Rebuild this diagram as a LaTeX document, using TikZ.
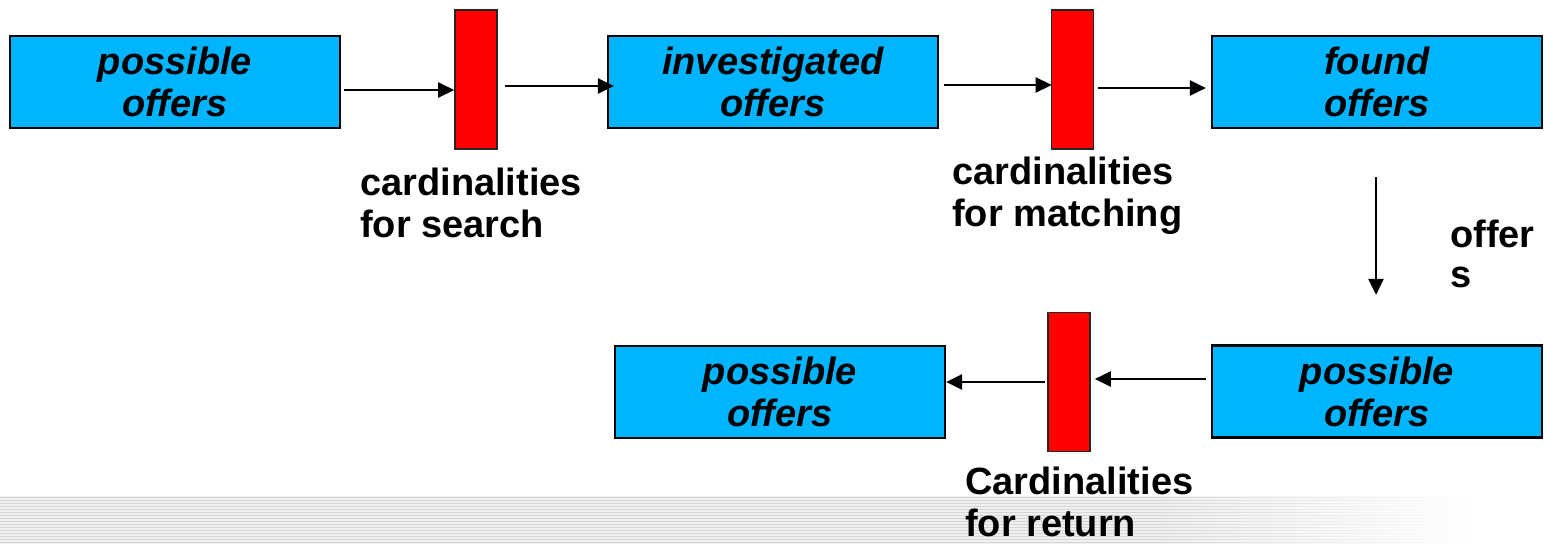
\documentclass[tikz,border=0pt]{standalone}
\usepackage{fontspec}
\setmainfont{Liberation Sans}
\usetikzlibrary{arrows.meta,fadings}
\definecolor{boxblue}{RGB}{0,181,255}
\definecolor{barred}{RGB}{255,0,0}
\definecolor{stripedark}{RGB}{214,214,214}
\definecolor{stripelight}{RGB}{240,240,240}
% white veil: clear on the left, opaque on the right
\tikzfading[name=veilright, left color=transparent!100, right color=transparent!0]
\begin{document}
\begin{tikzpicture}[x=1pt,y=-1pt,
  offerbox/.style={draw=black, line width=2.2pt, fill=boxblue,
    minimum width=330pt, minimum height=92pt, inner sep=0pt, align=center,
    font=\fontsize{38}{42}\selectfont\bfseries\itshape},
  gate/.style={draw=black!85, line width=1.6pt, fill=barred,
    minimum width=42pt, minimum height=139pt, inner sep=0pt},
  caption/.style={anchor=north west, inner sep=0pt, align=left,
    font=\fontsize{38}{42}\selectfont\bfseries},
  flow/.style={line width=2.5pt, -{Triangle[length=16pt,width=15pt]}}]

\useasboundingbox (0,0) rectangle (1544,544);

% striped band along the bottom edge, fading out to the right
\fill[stripelight] (0,496) rectangle (1470,544);
\foreach \k in {0,...,15}
  \draw[stripedark, line width=1.3pt] (0,497.5+3*\k) -- (1470,497.5+3*\k);
\fill[white, path fading=veilright] (1150,494) rectangle (1470,546);

% top row
\node[offerbox] (po1) at (175,82) {possible\\offers};
\node[gate] (g1) at (476,79.5) {};
\node[offerbox] (io) at (773,82) {investigated\\offers};
\node[gate] (g2) at (1072.5,79.5) {};
\node[offerbox] (fo) at (1377,82) {found\\offers};

% bottom row
\node[offerbox] (po2) at (1377,391.5) {possible\\offers};
\node[gate] (g3) at (1069,382) {};
\node[offerbox] (po3) at (780,392) {possible\\offers};

% flow arrows
\draw[flow] ([shift={(3,8)}]po1.east) -- ([shift={(0,10.5)}]g1.west);
\draw[flow] ([shift={(7,6.5)}]g1.east) -- ([shift={(7,4)}]io.west);
\draw[flow] ([shift={(5,3)}]io.east) -- ([shift={(1,5.5)}]g2.west);
\draw[flow] ([shift={(3.5,8.5)}]g2.east) -- ([shift={(-5,6)}]fo.west);
\draw[flow] ([shift={(-1,48)}]fo.south) -- ([shift={(-1,-49.5)}]po2.north);
\draw[flow] ([shift={(-5,-12.5)}]po2.west) -- ([shift={(4,-3)}]g3.east);
\draw[flow] ([shift={(-2,0)}]g3.west) -- ([shift={(0,-10)}]po3.east);

% captions
\node[caption] (c1) at (360,168) {cardinalities\\for search};
\node[caption] (c2) at (952,157) {cardinalities\\for matching};
\node[caption] (c3) at (965,467) {Cardinalities\\for return};
\node[caption] (c4) at (1450,220) {offer\\[-2pt]s};
\end{tikzpicture}
\end{document}
